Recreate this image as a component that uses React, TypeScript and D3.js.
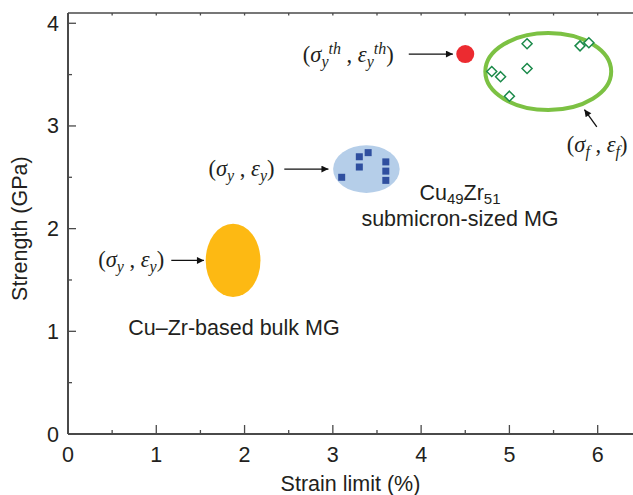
import React from "react";
import * as d3 from "d3";

// axis ticks
const xTicks = [0, 1, 2, 3, 4, 5, 6];
const yTicks = [0, 1, 2, 3, 4];
const xMinor = [0.5, 1.5, 2.5, 3.5, 4.5, 5.5];
const yMinor = [0.5, 1.5, 2.5, 3.5];

// fracture points of the submicron MG (sigma_f, eps_f)
const fractureStrain = [5.2, 5.8, 5.9, 4.8, 4.9, 5.2, 5.0];
const fractureStrength = [3.8, 3.78, 3.81, 3.53, 3.48, 3.56, 3.29];

// yield points of the submicron MG (sigma_y, eps_y)
const yieldStrain = [3.1, 3.3, 3.3, 3.4, 3.6, 3.6, 3.6];
const yieldStrength = [2.5, 2.7, 2.6, 2.74, 2.65, 2.56, 2.47];

// theoretical yield point
const theoryPoint = [4.5, 3.7];

// scatter regions: [cx, cy, rx, ry] in strain / strength units
const bulkRegion = [1.87, 1.69, 0.31, 0.357];
const yieldRegion = [3.38, 2.58, 0.377, 0.232];
const fractureRegion = [5.44, 3.53, 0.713, 0.375];

const W = 633;
const H = 495;

const x = d3.scaleLinear().domain([0, 6.4]).range([68, 633]);
const y = d3.scaleLinear().domain([0, 4.1]).range([434, 13]);

const sans = "'Liberation Sans', Arial, Helvetica, sans-serif";
const serif = "'Liberation Serif', 'Times New Roman', serif";
const axisColor = "#4a4a4a";
const ink = "#231f20";
const fs = 21.5;

function ellipse(r: number[]) {
  return {
    cx: x(r[0]),
    cy: y(r[1]),
    rx: x(r[0] + r[2]) - x(r[0]),
    ry: y(r[1]) - y(r[1] + r[3]),
  };
}

// (σ_sub , ε_sub) label
function SigmaEps({ px, py, sub, sup, anchor = "end" }: any) {
  const it = { fontStyle: "italic" } as const;
  return (
    <text x={px} y={py} fontFamily={serif} fontSize={22.5} textAnchor={anchor} fill={ink}>
      <tspan>(</tspan>
      <tspan {...it}>σ</tspan>
      <tspan {...it} fontSize={16} dy={5}>{sub}</tspan>
      {sup ? <tspan {...it} fontSize={16} dy={-13}>{sup}</tspan> : null}
      <tspan dy={sup ? 8 : -5}> , </tspan>
      <tspan {...it}>ε</tspan>
      <tspan {...it} fontSize={16} dy={5}>{sub}</tspan>
      {sup ? <tspan {...it} fontSize={16} dy={-13}>{sup}</tspan> : null}
      <tspan dy={sup ? 8 : -5}>)</tspan>
    </text>
  );
}

function Arrow({ from, to }: { from: number[]; to: number[] }) {
  return (
    <line
      x1={x(from[0])}
      y1={y(from[1])}
      x2={x(to[0])}
      y2={y(to[1])}
      stroke="#111"
      strokeWidth={1.3}
      markerEnd="url(#arrowHead)"
    />
  );
}

export default function App() {
  const bulk = ellipse(bulkRegion);
  const yr = ellipse(yieldRegion);
  const fr = ellipse(fractureRegion);
  const d = 5; // diamond half size
  const s = 7; // square size

  return (
    <svg
      width={W}
      height={H}
      style={{ position: "absolute", left: 0, top: 0, background: "#fff" }}
    >
      <defs>
        <marker
          id="arrowHead"
          viewBox="0 0 10 10"
          refX={10}
          refY={5}
          markerWidth={10}
          markerHeight={7}
          markerUnits="userSpaceOnUse"
          orient="auto"
        >
          <path d="M0,0 L10,5 L0,10 Z" fill="#111" />
        </marker>
      </defs>

      {/* regions */}
      <ellipse {...bulk} fill="#fdb913" />
      <ellipse {...yr} fill="#b5cee9" />
      <ellipse {...fr} fill="none" stroke="#7cc143" strokeWidth={4} />

      {/* yield squares */}
      {yieldStrain.map((v, i) => (
        <rect
          key={"s" + i}
          x={x(v) - s / 2}
          y={y(yieldStrength[i]) - s / 2}
          width={s}
          height={s}
          fill="#2f4f9f"
        />
      ))}

      {/* fracture diamonds */}
      {fractureStrain.map((v, i) => {
        const cx = x(v);
        const cy = y(fractureStrength[i]);
        return (
          <path
            key={"d" + i}
            d={`M${cx},${cy - d}L${cx + d},${cy}L${cx},${cy + d}L${cx - d},${cy}Z`}
            fill="#fff"
            stroke="#1b8a4a"
            strokeWidth={1.5}
          />
        );
      })}

      {/* theoretical point */}
      <circle cx={x(theoryPoint[0])} cy={y(theoryPoint[1])} r={9} fill="#ec2b30" />

      {/* axes frame */}
      <g stroke={axisColor} strokeWidth={2} fill="none">
        <line x1={x(0)} y1={y(0)} x2={W} y2={y(0)} />
        <line x1={x(0)} y1={y(0)} x2={x(0)} y2={y(4.1)} />
        <line x1={x(0)} y1={y(4.1)} x2={W} y2={y(4.1)} strokeWidth={1.5} />
      </g>
      <g stroke={axisColor} strokeWidth={1.3}>
        {xTicks.map((t) => (
          <line key={"xt" + t} x1={x(t)} x2={x(t)} y1={y(0)} y2={y(0) - 9} />
        ))}
        {xMinor.map((t) => (
          <line key={"xm" + t} x1={x(t)} x2={x(t)} y1={y(0)} y2={y(0) - 4} />
        ))}
        {xTicks.concat(xMinor).map((t) => (
          <line key={"xtop" + t} x1={x(t)} x2={x(t)} y1={y(4.1)} y2={y(4.1) + 2.5} />
        ))}
        {yTicks.map((t) => (
          <line key={"yt" + t} x1={x(0)} x2={x(0) + 8} y1={y(t)} y2={y(t)} />
        ))}
        {yMinor.map((t) => (
          <line key={"ym" + t} x1={x(0)} x2={x(0) + 4} y1={y(t)} y2={y(t)} />
        ))}
      </g>

      {/* tick labels */}
      <g fontFamily={sans} fontSize={fs} fill={ink}>
        {xTicks.map((t) => (
          <text key={"xl" + t} x={x(t)} y={462} textAnchor="middle">
            {t}
          </text>
        ))}
        {yTicks.map((t) => (
          <text key={"yl" + t} x={59} y={y(t) + 7.5} textAnchor="end">
            {t}
          </text>
        ))}
      </g>

      {/* axis titles */}
      <text x={x(3.2)} y={491} fontFamily={sans} fontSize={fs} textAnchor="middle" fill={ink}>
        Strain limit (%)
      </text>
      <text
        transform={`translate(27,${y(2.0)}) rotate(-90)`}
        fontFamily={sans}
        fontSize={fs}
        textAnchor="middle"
        fill={ink}
      >
        Strength (GPa)
      </text>

      {/* annotations */}
      <SigmaEps px={x(3.69)} py={y(3.7) + 8} sub="y" sup="th" />
      <Arrow from={[3.86, 3.7]} to={[4.36, 3.7]} />

      <SigmaEps px={x(2.34)} py={y(2.58) + 7} sub="y" />
      <Arrow from={[2.45, 2.58]} to={[2.95, 2.58]} />

      <SigmaEps px={x(1.09)} py={y(1.69) + 7} sub="y" />
      <Arrow from={[1.17, 1.69]} to={[1.54, 1.69]} />

      <SigmaEps px={x(5.65)} py={y(2.75)} sub="f" anchor="start" />
      <Arrow from={[5.99, 2.99]} to={[5.85, 3.16]} />

      <g fontFamily={sans} fontSize={fs} fill={ink} textAnchor="middle">
        <text x={x(4.44)} y={y(2.275)}>
          Cu
          <tspan fontSize={15} dy={4}>49</tspan>
          <tspan dy={-4}>Zr</tspan>
          <tspan fontSize={15} dy={4}>51</tspan>
        </text>
        <text x={x(4.44)} y={y(2.03)}>
          submicron-sized MG
        </text>
        <text x={x(1.88)} y={y(0.96)}>
          Cu–Zr-based bulk MG
        </text>
      </g>
    </svg>
  );
}
